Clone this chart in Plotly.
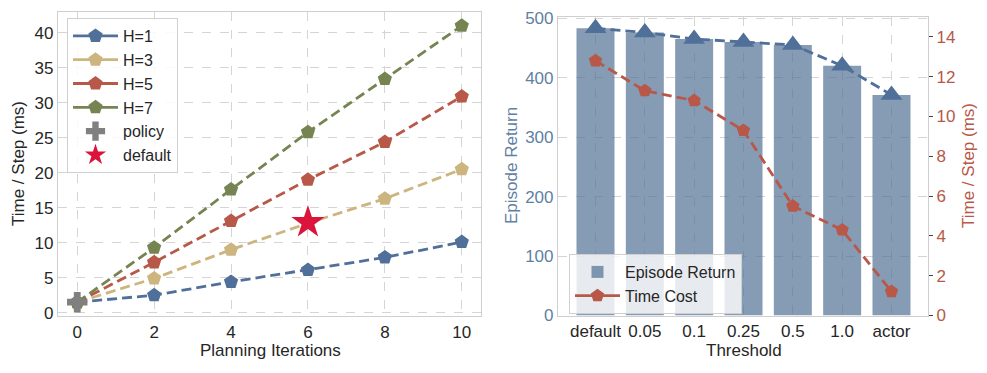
import plotly.graph_objects as go

# ---------------- data ----------------
iterations = [0, 2, 4, 6, 8, 10]
h1 = [1.5, 2.5, 4.4, 6.1, 7.9, 10.1]
h3 = [1.5, 4.9, 9.0, 12.8, 16.3, 20.5]
h5 = [1.5, 7.2, 13.1, 19.0, 24.4, 30.9]
h7 = [1.5, 9.3, 17.6, 25.8, 33.4, 41.0]
policy_x = [0]
policy_y = [1.5]
default_x = [6]
default_y = [12.9]

thresholds = ["default", "0.05", "0.1", "0.25", "0.5", "1.0", "actor"]
episode_return = [483, 476, 465, 460, 455, 420, 371]
time_cost = [12.8, 11.3, 10.8, 9.3, 5.5, 4.3, 1.2]

# ---------------- styles ----------------
W, H = 987, 373
ML, MR, MT, MB = 58, 59, 12, 57
IW, IH = W - ML - MR, H - MT - MB
FONT = "Arial, Liberation Sans, sans-serif"
FS = 17
LFS = 16
C_BLUE = "#50709A"
C_TAN = "#CDB57F"
C_RED = "#B85848"
C_GREEN = "#758451"
C_GRAY = "#808080"
C_STAR = "#DC143C"
C_YBLUE = "#5F7FA3"
GRID = "#d5d5d5"
FRAME = "#cfcfcf"
TXT = "#262626"
DASH = "10px,5px"


def dom_x(a, b):
    return [(a - ML) / IW, (b - ML) / IW]


def dom_y(top, bottom):
    return [max(0, (H - MB - bottom) / IH), min(1, (H - MB - top) / IH)]


def px_to_paper(xp, yp):
    return (xp - ML) / IW, (H - MB - yp) / IH


fig = go.Figure()

series = [("H=1", h1, C_BLUE), ("H=3", h3, C_TAN), ("H=5", h5, C_RED), ("H=7", h7, C_GREEN)]
for name, ys, col in series:
    fig.add_trace(go.Scatter(
        x=iterations, y=ys, name=name, mode="lines+markers",
        line=dict(color=col, width=2.8, dash=DASH),
        marker=dict(symbol="pentagon", size=15, color=col, line=dict(width=0)),
        showlegend=False, xaxis="x", yaxis="y"))
# legend entries (solid line sample like the reference legend)
for name, ys, col in series:
    fig.add_trace(go.Scatter(
        x=[None], y=[None], name=name, mode="lines+markers",
        line=dict(color=col, width=2.8),
        marker=dict(symbol="pentagon", size=15, color=col, line=dict(width=0)),
        xaxis="x", yaxis="y", legend="legend"))

fig.add_trace(go.Scatter(
    x=policy_x, y=policy_y, name="policy", mode="markers",
    marker=dict(symbol="cross", size=17, color=C_GRAY, line=dict(width=0)),
    xaxis="x", yaxis="y", legend="legend"))
fig.add_trace(go.Scatter(
    x=default_x, y=default_y, name="default", mode="markers",
    marker=dict(symbol="star", size=25, color=C_STAR, line=dict(width=0)),
    xaxis="x", yaxis="y", legend="legend"))

# right panel
fig.add_trace(go.Bar(
    x=thresholds, y=episode_return, name="Episode Return",
    marker=dict(color="rgba(76,108,145,0.68)", line=dict(width=0)),
    width=0.77, xaxis="x2", yaxis="y2", legend="legend2"))
fig.add_trace(go.Scatter(
    x=thresholds, y=episode_return, name="Episode Return line", mode="lines+markers",
    line=dict(color=C_BLUE, width=2.8, dash=DASH),
    marker=dict(symbol="triangle-up", size=19, color=C_BLUE, line=dict(width=0)),
    showlegend=False, xaxis="x2", yaxis="y2"))
fig.add_trace(go.Scatter(
    x=thresholds, y=time_cost, name="Time Cost", mode="lines+markers",
    line=dict(color=C_RED, width=2.8, dash=DASH),
    marker=dict(symbol="pentagon", size=14, color=C_RED, line=dict(width=0)),
    showlegend=False, xaxis="x2", yaxis="y3"))
fig.add_trace(go.Scatter(
    x=[None], y=[None], name="Time Cost", mode="lines+markers",
    line=dict(color=C_RED, width=2.8),
    marker=dict(symbol="pentagon", size=14, color=C_RED, line=dict(width=0)),
    xaxis="x2", yaxis="y3", legend="legend2"))

axis_common = dict(showgrid=True, gridcolor=GRID, griddash="dash", gridwidth=1,
                   zeroline=False, showline=True, linecolor=FRAME, linewidth=1.2,
                   automargin=False,
                   ticks="", tickfont=dict(family=FONT, size=FS, color=TXT))

# axis titles as annotations at fixed pixel positions
titles = [
    ("Planning Iterations", 270, 350, 0, TXT),
    ("Time / Step (ms)", 18, 164, -90, TXT),
    ("Threshold", 744, 350, 0, TXT),
    ("Episode Return", 511, 166, -90, C_YBLUE),
    ("Time / Step (ms)", 968, 166, -90, C_RED),
]
annotations = []
for text, xp, yp, ang, col in titles:
    ax_, ay_ = px_to_paper(xp, yp)
    annotations.append(dict(text=text, x=ax_, y=ay_, xref="paper", yref="paper",
                            xanchor="center", yanchor="middle", showarrow=False,
                            textangle=ang, font=dict(family=FONT, size=FS, color=col)))

fig.update_layout(
    width=W, height=H,
    margin=dict(l=ML, r=MR, t=MT, b=MB, autoexpand=False),
    paper_bgcolor="white", plot_bgcolor="white",
    font=dict(family=FONT, size=FS, color=TXT),
    annotations=annotations,
    xaxis=dict(domain=dom_x(58, 481), range=[-0.5, 10.5], tickvals=iterations,
               mirror=True, anchor="y", **axis_common),
    yaxis=dict(domain=dom_y(12, 316), range=[-0.47, 42.97], tickvals=[0, 5, 10, 15, 20, 25, 30, 35, 40],
               mirror=True, anchor="x", **axis_common),
    xaxis2=dict(domain=dom_x(558, 928), range=[-0.76, 6.74], mirror=True, anchor="y2",
                **axis_common),
    yaxis2=dict(domain=dom_y(17, 315.5), range=[0, 502], tickvals=[0, 100, 200, 300, 400, 500],
                anchor="x2", automargin=False,
                showgrid=True, gridcolor=GRID, griddash="dash", gridwidth=1,
                zeroline=False, showline=True, linecolor=FRAME, linewidth=1.2, mirror=False,
                ticks="", tickfont=dict(family=FONT, size=FS, color=C_YBLUE)),
    yaxis3=dict(domain=dom_y(17, 315.5), range=[0, 15.0], tickvals=[0, 2, 4, 6, 8, 10, 12, 14],
                overlaying="y2", side="right", anchor="x2", automargin=False,
                showgrid=False, zeroline=False, showline=True, linecolor=FRAME, linewidth=1.2,
                ticks="outside", ticklen=4, tickcolor="#444444",
                tickfont=dict(family=FONT, size=FS, color=C_RED)),
    legend=dict(xref="container", yref="container", x=67 / W, y=1 - 18 / H,
                xanchor="left", yanchor="top",
                bgcolor="rgba(255,255,255,0.85)", bordercolor="#d0d0d0", borderwidth=1,
                font=dict(family=FONT, size=LFS, color=TXT), itemwidth=45,
                tracegroupgap=0),
    legend2=dict(xref="container", yref="container", x=569 / W, y=1 - 254 / H,
                 xanchor="left", yanchor="top",
                 bgcolor="rgba(255,255,255,0.8)", bordercolor="#d0d0d0", borderwidth=1,
                 font=dict(family=FONT, size=LFS, color=TXT), itemwidth=45),
    showlegend=True,
)

fig.write_html("out.html", config={"displayModeBar": False},
               post_script="document.body.style.margin='0';document.body.style.overflow='hidden';")
